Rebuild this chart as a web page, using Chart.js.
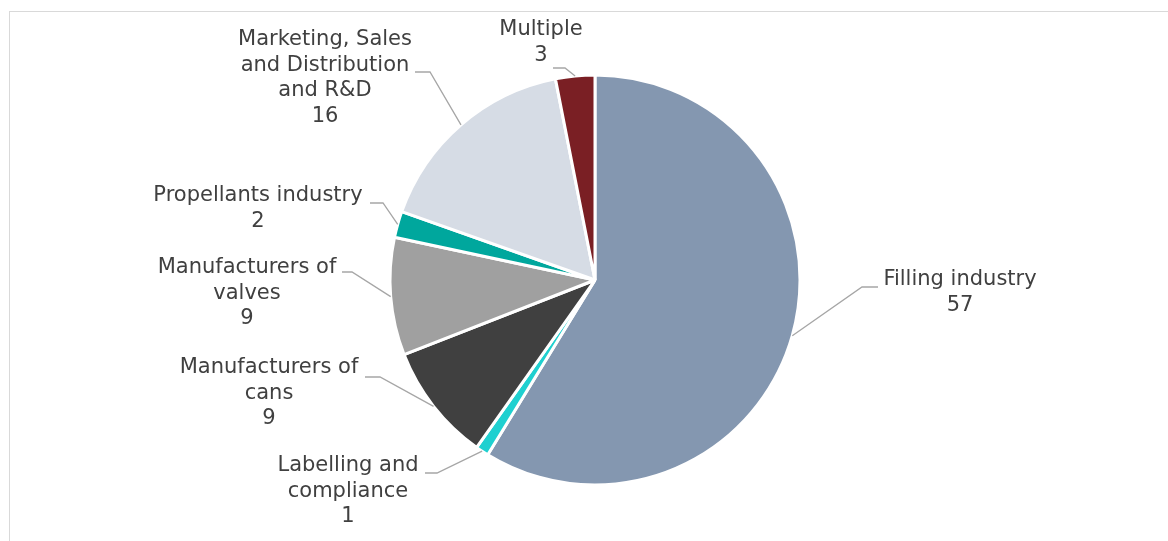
<!DOCTYPE html>
<html>
<head>
<meta charset="utf-8">
<script src="https://cdn.jsdelivr.net/npm/chart.js@4/dist/chart.umd.min.js"></script>
<style>
  html, body { margin: 0; padding: 0; background: #fff; }
  #wrap { position: relative; width: 1168px; height: 541px; overflow: hidden; }
  #frame { position: absolute; left: 9px; top: 11px; width: 1300px; height: 700px; border: 1px solid #D9D9D9; box-sizing: border-box; }
  canvas { position: absolute; left: 0; top: 0; }
</style>
</head>
<body>
<div id="wrap">
  <div id="frame"></div>
  <canvas id="c" width="1168" height="541"></canvas>
</div>
<script>
// ---- data ----
const categories = [
  ["Filling industry"],
  ["Labelling and", "compliance"],
  ["Manufacturers of", "cans"],
  ["Manufacturers of", "valves"],
  ["Propellants industry"],
  ["Marketing, Sales", "and Distribution", "and R&D"],
  ["Multiple"]
];
const values = [57, 1, 9, 9, 2, 16, 3];
const colors = ["#8497B0", "#1FD0D0", "#404040", "#A0A0A0", "#00A79D", "#D6DCE5", "#7A1F24"];

// ---- label layout (offsets from pie centre, px) ----
// tx,ty: text centre of first line; hx0..hx1 at hy: horizontal leader segment
const labelLayout = [
  { tx: 365, ty: 0,    hx0: 283, hx1: 267, hy: 7 },
  { tx: -247, ty: 186, hx0: -170, hx1: -158, hy: 193 },
  { tx: -326, ty: 88,  hx0: -230, hx1: -215, hy: 97 },
  { tx: -348, ty: -12, hx0: -253, hx1: -243, hy: -8 },
  { tx: -337, ty: -84, hx0: -225, hx1: -212, hy: -77 },
  { tx: -270, ty: -240, hx0: -180, hx1: -165, hy: -208 },
  { tx: -54, ty: -250, hx0: -42, hx1: -30, hy: -212 }
];
const lineHeight = 25.5;

const labelPlugin = {
  id: 'leaderLabels',
  afterDatasetsDraw(chart) {
    const ctx = chart.ctx;
    const meta = chart.getDatasetMeta(0);
    ctx.save();
    meta.data.forEach((arc, i) => {
      const p = arc.getProps(['x', 'y', 'startAngle', 'endAngle', 'outerRadius'], true);
      const mid = (p.startAngle + p.endAngle) / 2;
      const ax = p.x + Math.cos(mid) * p.outerRadius;
      const ay = p.y + Math.sin(mid) * p.outerRadius;
      const L = labelLayout[i];
      ctx.strokeStyle = '#A6A6A6';
      ctx.lineWidth = 1.3;
      ctx.beginPath();
      ctx.moveTo(p.x + L.hx0, p.y + L.hy);
      ctx.lineTo(p.x + L.hx1, p.y + L.hy);
      ctx.lineTo(ax, ay);
      ctx.stroke();
      ctx.fillStyle = '#404040';
      ctx.font = '21px "DejaVu Sans", Verdana, sans-serif';
      ctx.textAlign = 'center';
      ctx.textBaseline = 'middle';
      const lines = categories[i].concat([String(values[i])]);
      lines.forEach((t, k) => {
        ctx.fillText(t, p.x + L.tx, p.y + L.ty + k * lineHeight);
      });
    });
    ctx.restore();
  }
};

new Chart(document.getElementById('c'), {
  type: 'pie',
  data: {
    labels: categories.map(c => c.join(' ')),
    datasets: [{
      data: values,
      backgroundColor: colors,
      borderColor: '#FFFFFF',
      borderWidth: 3
    }]
  },
  options: {
    responsive: false,
    animation: false,
    radius: 205,
    layout: { padding: { left: 22, right: 0, top: 19, bottom: 0 } },
    plugins: {
      legend: { display: false },
      tooltip: { enabled: false }
    }
  },
  plugins: [labelPlugin]
});
</script>
</body>
</html>
